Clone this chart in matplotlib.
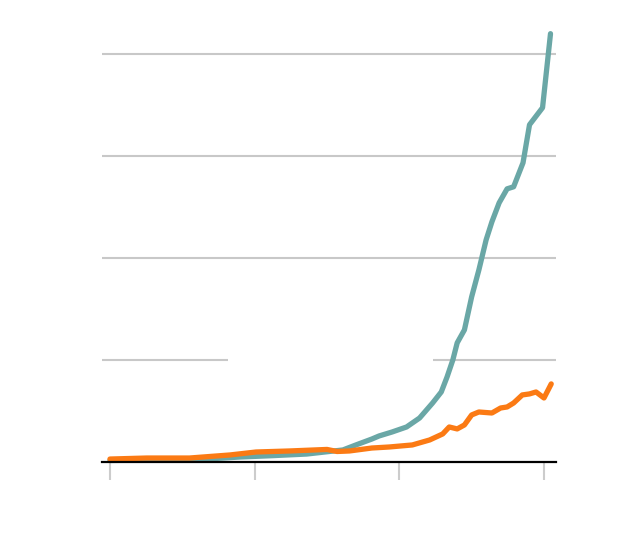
import numpy as np
import matplotlib
matplotlib.use("Agg")
import matplotlib.pyplot as plt

# series values (x in years, y in units where one gridline = 100)
teal_years = [1990.0, 1992.8, 1996.2, 1999.0, 2001.2, 2003.6, 2006.1, 2007.0, 2008.1, 2008.6,
              2009.5, 2010.5, 2011.4, 2012.3, 2012.9, 2013.3, 2013.7, 2014.0, 2014.5, 2015.0,
              2015.5, 2016.0, 2016.4, 2016.9, 2017.45, 2017.9, 2018.55, 2019.0, 2019.9, 2020.45]
teal_values = [1.5, 2.0, 2.5, 4.9, 6.2, 7.8, 11.8, 16.7, 22.5, 25.5,
               29.4, 34.3, 43.1, 57.8, 68.6, 83.3, 100.0, 116.7, 129.4, 161.8,
               188.2, 217.6, 235.3, 253.9, 267.6, 269.6, 293.1, 330.4, 347.1, 419.6]

orange_years = [1990.0, 1992.55, 1995.5, 1998.3, 2000.1, 2002.4, 2005.0, 2005.7, 2006.55, 2008.1,
                2009.3, 2010.9, 2012.1, 2013.0, 2013.45, 2014.0, 2014.5, 2015.0, 2015.5, 2016.4,
                2017.0, 2017.45, 2017.9, 2018.5, 2019.0, 2019.45, 2020.0, 2020.5]
orange_values = [2.9, 3.9, 3.9, 6.9, 9.8, 10.8, 12.3, 10.3, 10.8, 13.7,
                 14.7, 16.7, 21.6, 27.5, 34.3, 32.4, 36.3, 46.1, 49.0, 48.0,
                 52.9, 53.9, 57.8, 65.7, 66.7, 68.6, 62.7, 76.5]

grid_values = [100, 200, 300, 400]
tick_years = [1990, 2000, 2010, 2020]

teal = "#6aa7a6"
orange = "#fb7a14"

fig = plt.figure(figsize=(6.4, 5.36), dpi=100)
ax = fig.add_axes([102 / 640, 1 - 462 / 536, 454 / 640, 442 / 536])
ax.set_xlim(1989.45, 2020.83)
ax.set_ylim(0, 433)

# gridlines, the 100 line is broken in the middle
for g in grid_values:
    if g == 100:
        ax.hlines(g, 1989.45, 1998.15, color="#c8c8c8", lw=1.5, zorder=1)
        ax.hlines(g, 2012.3, 2020.83, color="#c8c8c8", lw=1.5, zorder=1)
    else:
        ax.hlines(g, 1989.45, 2020.83, color="#c8c8c8", lw=1.5, zorder=1)

ax.plot(teal_years, teal_values, color=teal, lw=3.8, solid_capstyle="round",
        solid_joinstyle="round", zorder=3, clip_on=False)
ax.plot(orange_years, orange_values, color=orange, lw=3.8, solid_capstyle="round",
        solid_joinstyle="round", zorder=4, clip_on=False)

for s in ["top", "right", "left"]:
    ax.spines[s].set_visible(False)
ax.spines["bottom"].set_color("black")
ax.spines["bottom"].set_linewidth(1.6)
ax.spines["bottom"].set_zorder(5)

ax.set_yticks([])
ax.set_xticks(tick_years)
ax.set_xticklabels([])
ax.tick_params(axis="x", length=13, width=1.5, color="#cccccc", direction="out")

fig.savefig("out.png", dpi=100)
